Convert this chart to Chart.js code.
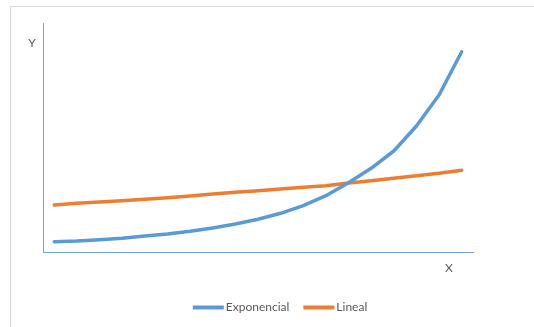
<!DOCTYPE html>
<html>
<head>
<meta charset="utf-8">
<script src="https://cdn.jsdelivr.net/npm/chart.js@4/dist/chart.umd.min.js"></script>
<style>
  html, body { margin: 0; padding: 0; background: #fff; }
  #wrap { position: relative; width: 534px; height: 327px; }
</style>
</head>
<body>
<div id="wrap"><canvas id="c" width="534" height="327"></canvas></div>
<script>
// Category positions along the X axis
const categories = ['1','2','3','4','5','6','7','8','9','10','11','12','13','14','15','16','17','18','19'];

// Series values
const exponencial = [10.3, 11.0, 12.3, 13.7, 16.0, 18.0, 20.7, 24.0, 28.0, 32.7, 38.7, 46.3, 56.3, 69.3, 83.7, 101.0, 126.0, 157.0, 200.3];
const lineal      = [47.0, 48.7, 50.0, 51.3, 52.7, 54.3, 56.0, 58.0, 59.7, 61.3, 63.0, 64.7, 66.3, 69.0, 71.3, 73.7, 76.3, 78.7, 81.7];

// Axis names
const axisNames = { x: 'X', y: 'Y' };

const FONT = '12px Lato, "Open Sans", sans-serif';
const TEXT = '#595959';

// Outer frame, axis names and bottom legend
const decorations = {
  id: 'decorations',
  beforeDraw(chart) {
    const ctx = chart.ctx;
    ctx.save();
    ctx.fillStyle = '#fff';
    ctx.fillRect(0, 0, chart.width, chart.height);
    ctx.strokeStyle = '#d9d9d9';
    ctx.lineWidth = 1;
    ctx.strokeRect(10.5, 6.5, 700, 500);
    ctx.restore();
  },
  afterDraw(chart) {
    const ctx = chart.ctx;
    const a = chart.chartArea;
    ctx.save();
    ctx.font = FONT;
    ctx.fillStyle = TEXT;
    ctx.textBaseline = 'middle';
    ctx.textAlign = 'center';
    ctx.fillText(axisNames.y, a.left - 11, a.top + 20);
    ctx.fillText(axisNames.x, a.right - 24, a.bottom + 16);

    // legend
    const sample = 31, gap = 2, between = 14;
    const items = chart.data.datasets.map(d => ({ label: d.label, color: d.borderColor, w: ctx.measureText(d.label).width }));
    let total = 0;
    items.forEach((it, i) => { total += sample + gap + it.w + (i ? between : 0); });
    let x = 280 - total / 2;
    const y = 307.5;
    ctx.textAlign = 'left';
    items.forEach(it => {
      ctx.strokeStyle = it.color;
      ctx.lineWidth = 4;
      ctx.lineCap = 'butt';
      ctx.beginPath();
      ctx.moveTo(x, y);
      ctx.lineTo(x + sample, y);
      ctx.stroke();
      x += sample + gap;
      ctx.fillText(it.label, x, y);
      x += it.w + between;
    });
    ctx.restore();
  }
};

new Chart(document.getElementById('c'), {
  type: 'line',
  data: {
    labels: categories,
    datasets: [
      { label: 'Exponencial', data: exponencial, borderColor: '#5B9BD5', backgroundColor: '#5B9BD5' },
      { label: 'Lineal', data: lineal, borderColor: '#ED7D31', backgroundColor: '#ED7D31' }
    ]
  },
  options: {
    responsive: false,
    animation: false,
    layout: { padding: { left: 43, top: 23, right: 61, bottom: 75 } },
    elements: {
      line: { borderWidth: 3.5, tension: 0, borderCapStyle: 'round', borderJoinStyle: 'round' },
      point: { radius: 0, hoverRadius: 0 }
    },
    plugins: { legend: { display: false }, tooltip: { enabled: false } },
    scales: {
      x: {
        offset: true,
        grid: { display: false, drawTicks: false },
        border: { display: true, color: '#6FA3D9', width: 1 },
        ticks: { display: false },
        afterFit(s) { s.height = 0; }
      },
      y: {
        min: 0, max: 229,
        grid: { display: false, drawTicks: false },
        border: { display: true, color: '#6FA3D9', width: 1 },
        ticks: { display: false },
        afterFit(s) { s.width = 0; }
      }
    }
  },
  plugins: [decorations]
});
</script>
</body>
</html>
